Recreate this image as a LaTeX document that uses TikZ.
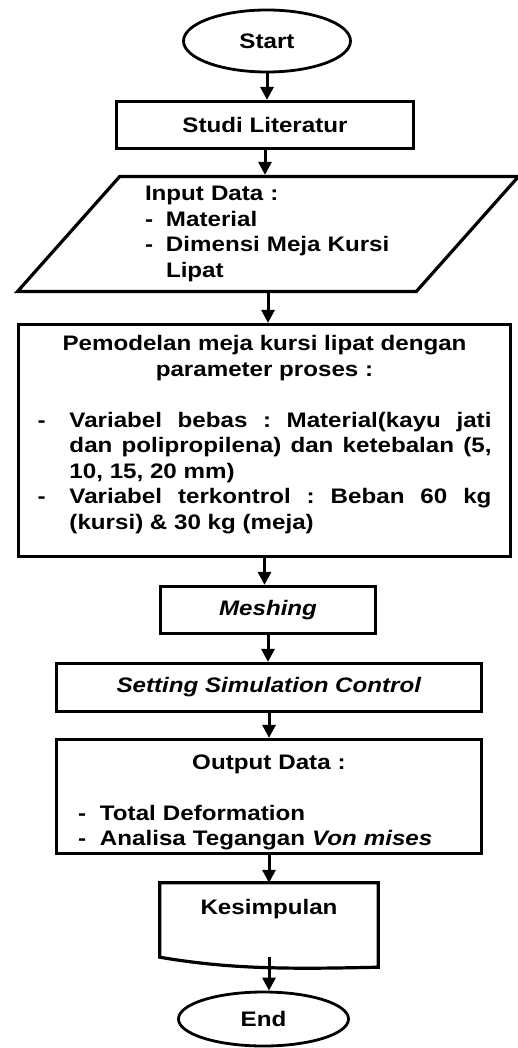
\documentclass[tikz,border=0pt]{standalone}
\usepackage{fontspec}
\setmainfont{Liberation Sans}[FakeStretch=1.15]
\usepackage{tikz}
\usetikzlibrary{shapes.geometric,arrows.meta}

\begin{document}
\begin{tikzpicture}[x=1pt,y=1pt,yscale=-1,
    every node/.style={font=\fontsize{21}{25.5}\selectfont\bfseries\frenchspacing, inner sep=0pt},
    box/.style={draw, line width=3.2pt, rectangle},
    term/.style={draw, ellipse, line width=2.8pt},
    arrow/.style={line width=3pt, -{Triangle[length=13pt,width=13pt]}}]
    \useasboundingbox (0,0) rectangle (518,1048);

    % Start
    \node[term, minimum width=167, minimum height=62] (start) at (267,41) {Start};
    % Studi literatur
    \node[box, minimum width=297, minimum height=47] (studi) at (265,125) {Studi Literatur};
    % Input data
    \node[draw, trapezium, trapezium left angle=43, trapezium right angle=137,
        trapezium stretches body, line width=3.2pt, minimum width=501, minimum height=115,
        text width=246, align=left] (input) at (268,234)
        {Input Data :\\
         \makebox[21pt][l]{-}Material\\
         \makebox[21pt][l]{-}Dimensi Meja Kursi\\
         \hspace*{21pt}Lipat};
    % Pemodelan
    \node[box, minimum width=492, minimum height=232, text width=454, align=justify] (model) at (264.5,440.5)
        {{\centering Pemodelan meja kursi lipat dengan\\ parameter proses :\par}
         \vspace{25.5pt}
         \noindent\hangindent=32pt\hangafter=1\makebox[32pt][l]{-}Variabel bebas : Material(kayu jati\linebreak
         dan polipropilena) dan ketebalan (5,\linebreak 10, 15, 20 mm)\par
         \noindent\hangindent=32pt\hangafter=1\makebox[32pt][l]{-}Variabel terkontrol : Beban 60 kg\linebreak
         (kursi) \& 30 kg (meja)\par
         \nointerlineskip\vspace{12pt}\hbox{}};
    % Meshing
    \node[box, minimum width=215, minimum height=47] (mesh) at (268,610) {\textit{Meshing}};
    % Setting
    \node[box, minimum width=425, minimum height=48] (setting) at (269,687.5) {\textit{Setting Simulation Control}};
    % Output data
    \node[box, minimum width=425, minimum height=114, text width=382, align=left] (output) at (269,796.5)
        {{\centering Output Data :\par}
         \vspace{25.5pt}
         \makebox[22pt][l]{-}Total Deformation\\
         \makebox[22pt][l]{-}Analisa Tegangan \textit{Von mises}\par
         \nointerlineskip\vspace{-12pt}\hbox{}};
    % Kesimpulan (document shape)
    \node[minimum width=218, minimum height=74, align=center] (kes) at (269,920) {Kesimpulan\\ \mbox{}};
    \draw[line width=3.2pt] (kes.north west) -- (kes.north east) -- ([yshift=10pt]kes.south east)
        .. controls +(-90,2) and +(70,12) .. (kes.south west) -- cycle;
    % End
    \node[term, minimum width=170, minimum height=54] (finish) at (263.5,1019) {End};

    % Arrows
    \draw[arrow] (start.south) -- (start.south |- studi.north);
    \draw[arrow] (studi.south) -- (studi.south |- input.north);
    \draw[arrow] (input.south) -- (input.south |- model.north);
    \draw[arrow] (model.south) -- (model.south |- mesh.north);
    \draw[arrow] (mesh.south) -- (mesh.south |- setting.north);
    \draw[arrow] (setting.south) -- (setting.south |- output.north);
    \draw[arrow] (output.south) -- (output.south |- kes.north);
    \draw[arrow] (kes.south) -- (kes.south |- finish.north);
\end{tikzpicture}
\end{document}
